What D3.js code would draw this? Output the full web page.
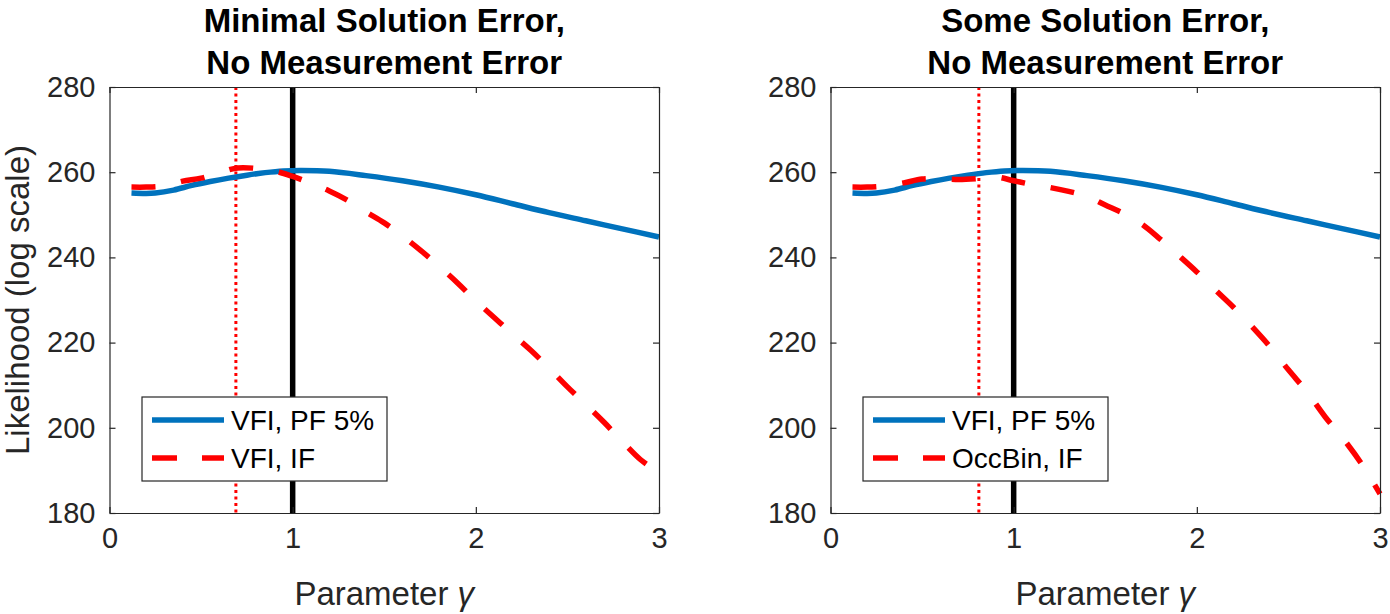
<!DOCTYPE html>
<html>
<head>
<meta charset="utf-8">
<title>Likelihood profiles</title>
<script src="https://cdn.jsdelivr.net/npm/d3@7"></script>
<style>
  body { margin: 0; background: #fff; }
  svg text { font-family: "Liberation Sans", Arial, Helvetica, sans-serif; fill: #262626; }
</style>
</head>
<body>
<div id="chart"></div>
<script>
// parameter grid (gamma) and values
var gammaBlue = [0.12, 0.2, 0.25, 0.35, 0.45, 0.55, 0.65, 0.75, 0.85, 0.95, 1.05, 1.2, 1.4, 1.6, 1.8, 2.0, 2.2, 2.4, 2.6, 2.8, 3.0];
var vfiPF = [255.1, 255.0, 255.1, 255.8, 256.9, 257.8, 258.6, 259.3, 259.9, 260.3, 260.4, 260.2, 259.2, 258.0, 256.5, 254.7, 252.6, 250.5, 248.6, 246.7, 244.8];

var gammaRed = [0.12, 0.2, 0.3, 0.4, 0.5, 0.6, 0.7, 0.8, 0.9, 1.0, 1.1, 1.2, 1.3, 1.4, 1.5, 1.6, 1.7, 1.8, 1.9, 2.0, 2.1, 2.2, 2.3, 2.4, 2.5, 2.6, 2.7, 2.8, 2.9, 3.0];
var vfiIF = [256.5, 256.5, 256.8, 257.9, 258.6, 259.9, 261.0, 260.9, 260.3, 259.0, 257.4, 255.6, 253.4, 250.7, 248.1, 245.0, 241.6, 237.9, 234.0, 229.8, 225.9, 222.0, 218.2, 214.0, 209.6, 205.5, 201.3, 196.8, 192.5, 189.5];
var occbinIF = [256.5, 256.5, 256.8, 257.5, 258.4, 258.5, 258.3, 258.5, 258.9, 258.0, 257.1, 256.4, 255.5, 254.3, 252.3, 250.3, 247.8, 244.3, 240.5, 236.6, 232.4, 228.3, 223.8, 219.0, 213.6, 208.5, 202.6, 197.4, 191.5, 184.5];

var xTicks = [0, 1, 2, 3];
var yTicks = [180, 200, 220, 240, 260, 280];

var panels = [
  { title: ["Minimal Solution Error,", "No Measurement Error"], red: vfiIF, redName: "VFI, IF", estimate: 0.69 },
  { title: ["Some Solution Error,", "No Measurement Error"], red: occbinIF, redName: "OccBin, IF", estimate: 0.81 }
];
var trueGamma = 1;

var width = 1390, height = 614;
var axTop = 87, axBottom = 513, axWidth = 549.5;
var axLefts = [109.5, 830.5];
var blue = "#0072BD", red = "#FF0000", axisColor = "#262626";

var svg = d3.select("#chart").append("svg")
  .attr("width", width)
  .attr("height", height);

var y = d3.scaleLinear().domain([180, 280]).range([axBottom, axTop]);

panels.forEach(function(p, k) {
  var left = axLefts[k];
  var x = d3.scaleLinear().domain([0, 3]).range([left, left + axWidth]);
  var g = svg.append("g");

  var line = d3.line()
    .x(function(d) { return x(d[0]); })
    .y(function(d) { return y(d[1]); })
    .curve(d3.curveCatmullRom);

  // reference lines
  g.append("line")
    .attr("x1", x(p.estimate)).attr("x2", x(p.estimate))
    .attr("y1", axTop).attr("y2", axBottom)
    .attr("stroke", red).attr("stroke-width", 3)
    .attr("stroke-dasharray", "3,3.5");
  g.append("line")
    .attr("x1", x(trueGamma)).attr("x2", x(trueGamma))
    .attr("y1", axTop).attr("y2", axBottom)
    .attr("stroke", "#000").attr("stroke-width", 5.5);

  // curves
  g.append("path")
    .datum(d3.zip(gammaBlue, vfiPF))
    .attr("d", line)
    .attr("fill", "none").attr("stroke", blue).attr("stroke-width", 5.5);
  g.append("path")
    .datum(d3.zip(gammaRed, p.red))
    .attr("d", line)
    .attr("fill", "none").attr("stroke", red).attr("stroke-width", 5.5)
    .attr("stroke-dasharray", "24,26");

  // axes box with inward ticks on all sides
  var xAxisB = d3.axisBottom(x).tickValues(xTicks).tickFormat(d3.format("d")).tickSizeInner(-6).tickSizeOuter(0).tickPadding(14);
  var xAxisT = d3.axisTop(x).tickValues(xTicks).tickSizeInner(-6).tickSizeOuter(0).tickFormat("");
  var yAxisL = d3.axisLeft(y).tickValues(yTicks).tickSizeInner(-6).tickSizeOuter(0).tickPadding(14);
  var yAxisR = d3.axisRight(y).tickValues(yTicks).tickSizeInner(-6).tickSizeOuter(0).tickFormat("");

  var axB = g.append("g").attr("transform", "translate(0," + axBottom + ")").call(xAxisB);
  var axT = g.append("g").attr("transform", "translate(0," + axTop + ")").call(xAxisT);
  var axL = g.append("g").attr("transform", "translate(" + left + ",0)").call(yAxisL);
  var axR = g.append("g").attr("transform", "translate(" + (left + axWidth) + ",0)").call(yAxisR);
  [axB, axT, axL, axR].forEach(function(a) {
    a.select(".domain").attr("stroke", axisColor).attr("stroke-width", 1.2);
    a.selectAll(".tick line").attr("stroke", axisColor).attr("stroke-width", 1.2);
    a.selectAll(".tick text").attr("fill", axisColor)
      .style("font-size", "29px")
      .style("font-family", "'Liberation Sans', Arial, sans-serif");
  });
  axB.selectAll(".tick text").attr("dy", "0.71em");

  // title
  g.append("text")
    .attr("x", left + axWidth / 2).attr("y", 32)
    .attr("text-anchor", "middle")
    .style("font-size", "33px").style("font-weight", "bold").style("fill", "#000")
    .text(p.title[0]);
  g.append("text")
    .attr("x", left + axWidth / 2).attr("y", 74)
    .attr("text-anchor", "middle")
    .style("font-size", "33px").style("font-weight", "bold").style("fill", "#000")
    .text(p.title[1]);

  // x label
  var xl = g.append("text")
    .attr("x", left + axWidth / 2).attr("y", 605)
    .attr("text-anchor", "middle")
    .style("font-size", "33px");
  xl.append("tspan").text("Parameter ");
  xl.append("tspan").style("font-style", "italic").text("\u03B3");

  // legend
  var lx = left + 32.5, ly = 397;
  var leg = g.append("g").attr("transform", "translate(" + lx + "," + ly + ")");
  leg.append("rect")
    .attr("width", 245).attr("height", 84)
    .attr("fill", "#fff").attr("stroke", axisColor).attr("stroke-width", 1.2);
  leg.append("line")
    .attr("x1", 10).attr("x2", 82).attr("y1", 23).attr("y2", 23)
    .attr("stroke", blue).attr("stroke-width", 5.5);
  leg.append("line")
    .attr("x1", 10).attr("x2", 82).attr("y1", 61).attr("y2", 61)
    .attr("stroke", red).attr("stroke-width", 5.5)
    .attr("stroke-dasharray", "25,25");
  leg.append("text").attr("x", 89).attr("y", 33)
    .style("font-size", "28px").style("fill", "#000").text("VFI, PF 5%");
  leg.append("text").attr("x", 89).attr("y", 71)
    .style("font-size", "28px").style("fill", "#000").text(p.redName);
});

// y label (left panel only)
svg.append("text")
  .attr("transform", "translate(29," + ((axTop + axBottom) / 2) + ") rotate(-90)")
  .attr("text-anchor", "middle")
  .style("font-size", "33px")
  .text("Likelihood (log scale)");
</script>
</body>
</html>
